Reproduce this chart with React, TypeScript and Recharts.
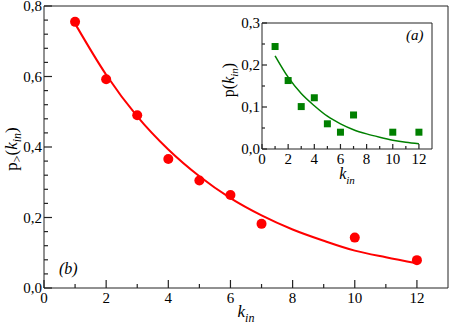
import React from "react";
import { ScatterChart, Scatter, XAxis, YAxis } from "recharts";

// measured points
const kin = [1, 2, 3, 4, 5, 6, 7, 10, 12];
const pGreater = [0.755, 0.592, 0.49, 0.366, 0.305, 0.264, 0.182, 0.143, 0.079];
const pk = [0.244, 0.163, 0.101, 0.122, 0.06, 0.04, 0.081, 0.04, 0.04];

// fitted curves
const fitK = [1, 2, 3, 4, 5, 6, 7, 8, 9, 10, 11, 12];
const pGreaterFit = [0.75, 0.605, 0.487, 0.393, 0.317, 0.255, 0.206, 0.166, 0.134, 0.106, 0.087, 0.07];
const pkFit = [0.222, 0.171, 0.132, 0.103, 0.078, 0.06, 0.046, 0.036, 0.028, 0.021, 0.016, 0.0126];

// ticks
const xTicks = [0, 1, 2, 3, 4, 5, 6, 7, 8, 9, 10, 11, 12];
const xMajor = [0, 2, 4, 6, 8, 10, 12];
const mainYTicks = [0, 0.04, 0.08, 0.12, 0.16, 0.2, 0.24, 0.28, 0.32, 0.36, 0.4, 0.44, 0.48, 0.52, 0.56, 0.6, 0.64, 0.68, 0.72, 0.76, 0.8];
const mainYMajor = [0, 0.2, 0.4, 0.6, 0.8];
const insetYTicks = [0, 0.05, 0.1, 0.15, 0.2, 0.25, 0.3];
const insetYMajor = [0, 0.1, 0.2, 0.3];

const toRows = (xs, ys) => xs.map((x, i) => ({ x, y: ys[i] }));
const isMajor = (list, v) => list.some((m) => Math.abs(m - v) < 1e-9);
const fmt = (v) => v.toFixed(1).replace(".", ",");

const mainPts = toRows(kin, pGreater);
const mainFit = toRows(fitK, pGreaterFit);
const insetPts = toRows(kin, pk);
const insetFit = toRows(fitK, pkFit);

const SERIF = "Liberation Serif, Times New Roman, serif";

const makeTick = (side, majors, big, small, label) => (props) => {
  const { x, y, payload } = props;
  const v = payload.value;
  const major = isMajor(majors, v);
  const len = major ? big : small;
  let x2 = x;
  let y2 = y;
  if (side === "bottom") y2 = y - len;
  if (side === "top") y2 = y + len;
  if (side === "left") x2 = x + len;
  if (side === "right") x2 = x - len;
  return (
    <g>
      <line x1={x} y1={y} x2={x2} y2={y2} stroke="#222" strokeWidth={1.2} />
      {label && major && side === "bottom" ? (
        <text x={x} y={y + 15} textAnchor="middle" fontSize={15} fontFamily={SERIF} fill="#000">
          {v}
        </text>
      ) : null}
      {label && major && side === "left" ? (
        <text x={x - 2} y={y + 5} textAnchor="end" fontSize={15} fontFamily={SERIF} fill="#000">
          {fmt(v)}
        </text>
      ) : null}
    </g>
  );
};

const mainBottom = makeTick("bottom", xMajor, 8, 4, true);
const mainTop = makeTick("top", xMajor, 8, 4, false);
const mainLeft = makeTick("left", mainYMajor, 8, 4, true);
const mainRight = makeTick("right", mainYMajor, 8, 4, false);
const inBottom = makeTick("bottom", xMajor, 5, 3, true);
const inTop = makeTick("top", xMajor, 5, 3, false);
const inLeft = makeTick("left", insetYMajor, 5, 3, true);
const inRight = makeTick("right", insetYMajor, 5, 3, false);

const noDot = () => <g />;
const dot = (p) => <circle cx={p.cx} cy={p.cy} r={5} fill="#ff0000" />;
const square = (p) => <rect x={p.cx - 3.5} y={p.cy - 3.5} width={7} height={7} fill="#008000" />;
const redLine = { stroke: "#ff0000", strokeWidth: 2 };
const greenLine = { stroke: "#008000", strokeWidth: 1.5 };
const xDom = [0, 13];
const mainYDom = [0, 0.8];
const insetYDom = [0, 0.3];
const mainMargin = { top: 6, right: 2, bottom: 8, left: 0 };
const insetMargin = { top: 23, right: 18, bottom: 10, left: 0 };

export default function App() {
  return (
    <div style={{ position: "absolute", left: 0, top: 0, width: 450, height: 326, background: "#fff", fontFamily: SERIF }}>
      <div style={{ position: "absolute", left: 0, top: 0 }}>
        <ScatterChart width={450} height={326} margin={mainMargin}>
          <XAxis type="number" dataKey="x" domain={xDom} ticks={xTicks} interval={0} height={30}
            tickSize={0} tickMargin={0} tickLine={false} stroke="#222" tick={mainBottom} />
          <XAxis xAxisId="t" orientation="top" mirror type="number" dataKey="x" domain={xDom} ticks={xTicks} interval={0} height={30}
            tickSize={0} tickMargin={0} tickLine={false} stroke="#222" tick={mainTop} />
          <YAxis type="number" dataKey="y" domain={mainYDom} ticks={mainYTicks} interval={0} width={44}
            tickSize={0} tickMargin={0} tickLine={false} stroke="#222" tick={mainLeft} />
          <YAxis yAxisId="r" orientation="right" mirror type="number" dataKey="y" domain={mainYDom} ticks={mainYTicks} interval={0} width={30}
            tickSize={0} tickMargin={0} tickLine={false} stroke="#222" tick={mainRight} />
          <Scatter data={mainFit} fill="none" shape={noDot} line={redLine} lineJointType="monotoneX" isAnimationActive={false} />
          <Scatter data={mainPts} fill="#ff0000" shape={dot} isAnimationActive={false} />
        </ScatterChart>
      </div>
      <div style={{ position: "absolute", left: 200, top: 0 }}>
        <ScatterChart width={250} height={189} margin={insetMargin}>
          <XAxis type="number" dataKey="x" domain={xDom} ticks={xTicks} interval={0} height={30}
            tickSize={0} tickMargin={0} tickLine={false} stroke="#222" tick={inBottom} />
          <XAxis xAxisId="t" orientation="top" mirror type="number" dataKey="x" domain={xDom} ticks={xTicks} interval={0} height={30}
            tickSize={0} tickMargin={0} tickLine={false} stroke="#222" tick={inTop} />
          <YAxis type="number" dataKey="y" domain={insetYDom} ticks={insetYTicks} interval={0} width={62}
            tickSize={0} tickMargin={0} tickLine={false} stroke="#222" tick={inLeft} />
          <YAxis yAxisId="r" orientation="right" mirror type="number" dataKey="y" domain={insetYDom} ticks={insetYTicks} interval={0} width={30}
            tickSize={0} tickMargin={0} tickLine={false} stroke="#222" tick={inRight} />
          <Scatter data={insetFit} fill="none" shape={noDot} line={greenLine} lineJointType="monotoneX" isAnimationActive={false} />
          <Scatter data={insetPts} fill="#008000" shape={square} isAnimationActive={false} />
        </ScatterChart>
      </div>
      <svg width={450} height={326} style={{ position: "absolute", left: 0, top: 0, pointerEvents: "none" }}>
        <text transform="rotate(-90 17 149)" x={17} y={149} textAnchor="middle" fontSize={17} fontFamily={SERIF}>
          p<tspan fontSize={12} dy={4}>&gt;</tspan>
          <tspan dy={-4}>(</tspan>
          <tspan fontStyle="italic">k</tspan>
          <tspan fontStyle="italic" fontSize={12} dy={4}>in</tspan>
          <tspan dy={-4}>)</tspan>
        </text>
        <text x={246} y={317} textAnchor="middle" fontSize={17} fontStyle="italic" fontFamily={SERIF}>
          k<tspan fontSize={12} dy={5}>in</tspan>
        </text>
        <text x={59} y={274} fontSize={16} fontStyle="italic" fontFamily={SERIF}>(b)</text>
        <text transform="rotate(-90 234 80)" x={234} y={80} textAnchor="middle" fontSize={16} fontFamily={SERIF}>
          p(<tspan fontStyle="italic">k</tspan>
          <tspan fontStyle="italic" fontSize={11} dy={4}>in</tspan>
          <tspan dy={-4}>)</tspan>
        </text>
        <text x={347} y={179} textAnchor="middle" fontSize={16} fontStyle="italic" fontFamily={SERIF}>
          k<tspan fontSize={11} dy={5}>in</tspan>
        </text>
        <text x={406} y={40} fontSize={15} fontStyle="italic" fontFamily={SERIF}>(a)</text>
      </svg>
    </div>
  );
}
